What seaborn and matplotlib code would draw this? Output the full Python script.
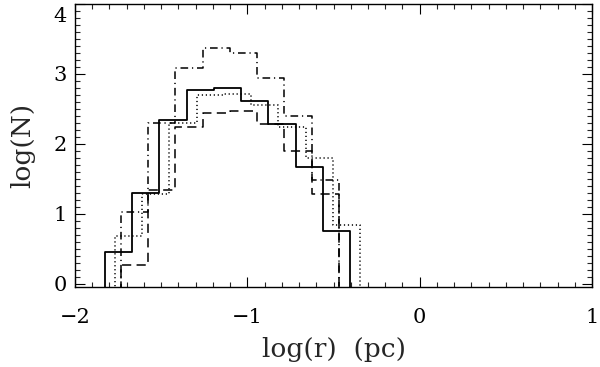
import numpy as np
import pandas as pd
import matplotlib
matplotlib.use("Agg")
import matplotlib.pyplot as plt
import matplotlib.transforms as mtransforms
import seaborn as sns
from matplotlib.ticker import MultipleLocator

# ---- data ----
BIN_WIDTH = 0.158
solid_start = -1.826
solid_logN = [0.447, 1.296, 2.343, 2.771, 2.796, 2.619, 2.281, 1.661, 0.753]
dotted_start = -1.768
dotted_logN = [0.676, 1.286, 2.296, 2.700, 2.714, 2.557, 2.247, 1.796, 0.833]
dashed_start = -1.733
dashed_logN = [0.270, 1.343, 2.247, 2.447, 2.470, 2.281, 1.890, 1.286]
dashdot_start = -1.733
dashdot_logN = [1.019, 2.296, 3.090, 3.376, 3.304, 2.947, 2.400, 1.486]

x_ticks = [-2, -1, 0, 1]
x_ticklabels = ["\u22122", "\u22121", "0", "1"]
y_ticks = [0, 1, 2, 3, 4]
XLIM = (-2, 1)
YLIM = (-0.05, 4.0)

sns.set_style("ticks")
plt.rcParams["font.family"] = ["DejaVu Serif"]

fig = plt.figure(figsize=(6.0, 3.67), dpi=100)
ax = fig.add_axes([0.125, 0.218, 0.8617, 0.771])


def step_frame(start, heights, base):
    n = len(heights)
    edges = start + BIN_WIDTH * np.arange(n + 1)
    xs = np.concatenate([[edges[0]], edges, [edges[-1]]])
    ys = np.concatenate([[base], heights, [heights[-1]], [base]])
    return pd.DataFrame({"logr": xs, "logN": ys})


series = [
    (solid_start, solid_logN, "-", 1.3),
    (dotted_start, dotted_logN, (0, (0.8, 1.8)), 1.1),
    (dashed_start, dashed_logN, (0, (6, 3.5)), 1.1),
    (dashdot_start, dashdot_logN, (0, (5, 2.5, 0.8, 2.5)), 1.1),
]
for start, h, ls, lw in series:
    df = step_frame(start, h, YLIM[0] - 0.5)
    sns.lineplot(data=df, x="logr", y="logN", ax=ax, sort=False, estimator=None,
                 drawstyle="steps-post", color="black", linestyle=ls, lw=lw)

ax.set_xlim(*XLIM)
ax.set_ylim(*YLIM)
ax.set_xticks(x_ticks)
ax.set_yticks(y_ticks)
ax.set_xticklabels(x_ticklabels)
ax.xaxis.set_minor_locator(MultipleLocator(0.1))
ax.yaxis.set_minor_locator(MultipleLocator(0.1))
ax.tick_params(which="major", direction="in", length=7, width=0.8,
               top=True, right=True, labelsize=15, colors="black")
ax.tick_params(which="minor", direction="in", length=3.5, width=0.8,
               top=True, right=True)
ax.tick_params(axis="x", which="major", pad=15)
ax.tick_params(axis="y", which="major", pad=6)
for sp in ax.spines.values():
    sp.set_linewidth(1.0)
    sp.set_color("black")
    sp.set_visible(True)

# keep the top y label inside the figure, as in the reference
top_lab = ax.get_yticklabels()[-1]
top_lab.set_transform(top_lab.get_transform() +
                      mtransforms.ScaledTranslation(0, -10 / 100, fig.dpi_scale_trans))

ax.set_xlabel("log(r)  (pc)", fontsize=19, labelpad=7)
ax.set_ylabel("log(N)", fontsize=19, labelpad=13)

fig.savefig("out.png", dpi=100)
